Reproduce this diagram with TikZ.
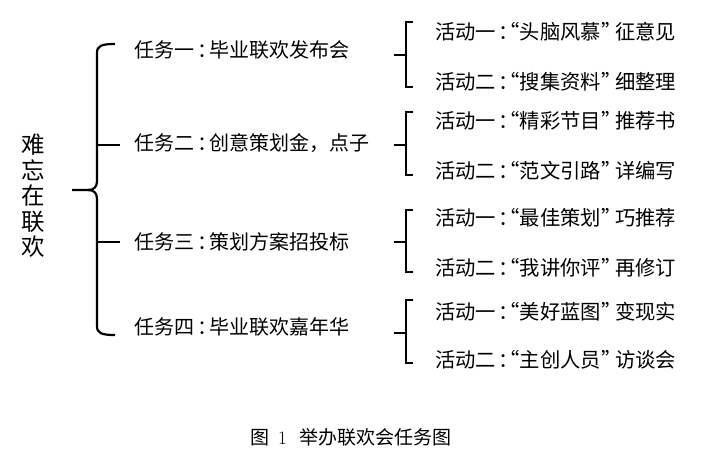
\documentclass[tikz,border=0pt]{standalone}
\usepackage{fontspec}
\newfontfamily\cjk{Noto Sans CJK SC}
\newfontfamily\cjkh[RawFeature=+halt]{Noto Sans CJK SC}
\newcommand{\hcolon}{{\cjkh ：}}
\newcommand{\hlquote}{{\cjkh “}}
\newcommand{\hrquote}{{\cjkh ”}}
\newcommand{\actline}[3]{#1\hspace{2.5pt}\hcolon\hspace{1pt}\hlquote #2\hrquote\hspace{4pt}#3}
\newcommand{\taskline}[2]{#1\hspace{3pt}\hcolon\hspace{2.5pt}#2}
\begin{document}
\begin{tikzpicture}[x=1pt,y=-1pt,
  bline/.style={line width=2.2pt,line cap=butt,line join=round},
  sline/.style={line width=1.9pt,line join=miter},
  tasktxt/.style={anchor=west,inner sep=0pt,font=\cjk\fontsize{20}{22}\selectfont},
  acttxt/.style={anchor=west,inner sep=0pt,font=\cjk\fontsize{20.3}{22}\selectfont},
  roottxt/.style={inner sep=0pt,align=center,font=\cjk\fontsize{23.5}{25.5}\selectfont},
  captxt/.style={anchor=west,inner sep=0pt,font=\cjk\fontsize{19}{21}\selectfont}]
\useasboundingbox (0,0) rectangle (706,452);
% root
\node[roottxt] (root) at (33,196) {难\\忘\\在\\联\\欢};
% tasks
\node[tasktxt] (t1) at (134,50) {\taskline{任务一}{毕业联欢发布会}};
\node[tasktxt] (t2) at (134,143) {\taskline{任务二}{创意策划金，点子}};
\node[tasktxt] (t3) at (134,242) {\taskline{任务三}{策划方案招投标}};
\node[tasktxt] (t4) at (134,327) {\taskline{任务四}{毕业联欢嘉年华}};
% activities
\node[acttxt] (a11) at (435,32) {\actline{活动一}{头脑风慕}{征意见}};
\node[acttxt] (a12) at (435,82) {\actline{活动二}{搜集资料}{细整理}};
\node[acttxt] (a21) at (435,121) {\actline{活动一}{精彩节目}{推荐书}};
\node[acttxt] (a22) at (435,171) {\actline{活动二}{范文引路}{详编写}};
\node[acttxt] (a31) at (435,218) {\actline{活动一}{最佳策划}{巧推荐}};
\node[acttxt] (a32) at (435,268) {\actline{活动二}{我讲你评}{再修订}};
\node[acttxt] (a41) at (435,312) {\actline{活动一}{美好蓝图}{变现实}};
\node[acttxt] (a42) at (435,360) {\actline{活动二}{主创人员}{访谈会}};
% big brace
\coordinate (bc) at (72,190);
\coordinate (btop) at (115,44);
\coordinate (bbot) at (115,335);
\draw[bline] (btop) .. controls (101,44) and (97,46) .. (97,53) -- (97,181)
  .. controls (97,187) and (94,190) .. (88,190) -- (bc);
\draw[bline] (88,190) .. controls (94,190) and (97,193) .. (97,199) -- (97,326)
  .. controls (97,333) and (101,335) .. (bbot);
\coordinate (k2) at (120,145);
\coordinate (k3) at (120,242);
\draw[bline] (97,145) -- (k2);
\draw[bline] (97,242) -- (k3);
% small braces
\foreach \n/\T/\B/\M in {1/22/87/55, 2/112/175/145, 3/210/272/242, 4/300/363/333}{
  \coordinate (s\n t) at (413,\T);
  \coordinate (s\n b) at (413,\B);
  \coordinate (s\n m) at (394,\M);
  \draw[sline] (s\n t) -- (406,\T) -- (406,\B) -- (s\n b);
  \draw[sline] (s\n m) -- (406,\M);
}
% caption
\node[captxt] (cap) at (250,437) {图\hspace{9pt}{\rmfamily\fontsize{19}{21}\selectfont 1}\hspace{13pt}举办联欢会任务图};
\end{tikzpicture}
\end{document}
